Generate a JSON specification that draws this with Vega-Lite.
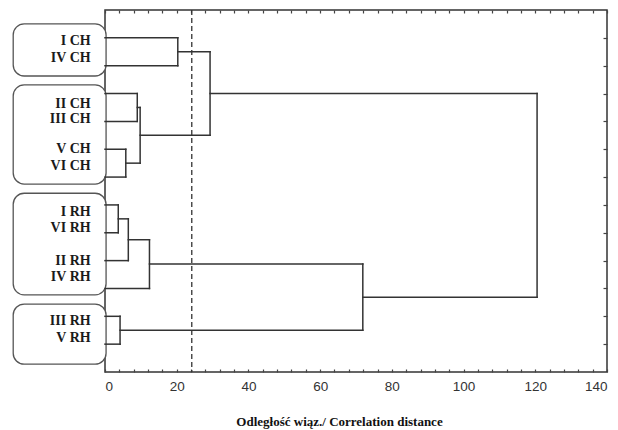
{
  "$schema": "https://vega.github.io/schema/vega-lite/v6.json",
  "width": 502,
  "height": 362,
  "autosize": {"type": "none"},
  "padding": {"left": 105, "top": 10, "right": 11, "bottom": 58},
  "background": "white",
  "config": {
    "view": {"stroke": "#333333", "strokeWidth": 1.5},
    "axis": {"grid": false, "domain": false}
  },
  "resolve": {"axis": {"x": "independent", "y": "independent"}},
  "layer": [
    {
      "data": {"values": [
        {"x": -25.6, "x2": 0.3, "y": 0.5, "y2": 2.37},
        {"x": -25.6, "x2": 0.3, "y": 2.69, "y2": 6.25},
        {"x": -25.6, "x2": 0.3, "y": 6.58, "y2": 10.23},
        {"x": -25.6, "x2": 0.3, "y": 10.56, "y2": 12.72}
      ]},
      "mark": {"type": "rect", "fill": "white", "stroke": "#555555", "strokeWidth": 1.3, "cornerRadius": 11, "clip": false},
      "encoding": {
        "x": {"field": "x", "type": "quantitative", "scale": {"domain": [0, 140], "nice": false, "zero": false},
          "axis": {"orient": "top", "values": [0,4,8,12,16,20,24,28,32,36,40,44,48,52,56,60,64,68,72,76,80,84,88,92,96,100,104,108,112,116,120,124,128,132,136,140], "labels": false, "title": null, "tickSize": -3, "tickColor": "#444444", "tickWidth": 1.2}},
        "x2": {"field": "x2"},
        "y": {"field": "y", "type": "quantitative", "scale": {"domain": [0, 13], "reverse": true, "nice": false, "zero": false}, "axis": null},
        "y2": {"field": "y2"}
      }
    },
    {
      "data": {"values": [
        {"x": 0, "x2": 20.3, "y": 1, "y2": 1},
        {"x": 0, "x2": 20.3, "y": 2, "y2": 2},
        {"x": 20.3, "x2": 20.3, "y": 1, "y2": 2},
        {"x": 20.3, "x2": 29.3, "y": 1.5, "y2": 1.5},
        {"x": 0, "x2": 9.0, "y": 3, "y2": 3},
        {"x": 0, "x2": 9.0, "y": 4, "y2": 4},
        {"x": 9.0, "x2": 9.0, "y": 3, "y2": 4},
        {"x": 9.0, "x2": 9.8, "y": 3.5, "y2": 3.5},
        {"x": 0, "x2": 5.8, "y": 5, "y2": 5},
        {"x": 0, "x2": 5.8, "y": 6, "y2": 6},
        {"x": 5.8, "x2": 5.8, "y": 5, "y2": 6},
        {"x": 5.8, "x2": 9.8, "y": 5.5, "y2": 5.5},
        {"x": 9.8, "x2": 9.8, "y": 3.5, "y2": 5.5},
        {"x": 9.8, "x2": 29.3, "y": 4.5, "y2": 4.5},
        {"x": 29.3, "x2": 29.3, "y": 1.5, "y2": 4.5},
        {"x": 29.3, "x2": 120.5, "y": 3.0, "y2": 3.0},
        {"x": 0, "x2": 3.7, "y": 7, "y2": 7},
        {"x": 0, "x2": 3.7, "y": 8, "y2": 8},
        {"x": 3.7, "x2": 3.7, "y": 7, "y2": 8},
        {"x": 3.7, "x2": 6.5, "y": 7.5, "y2": 7.5},
        {"x": 0, "x2": 6.5, "y": 9, "y2": 9},
        {"x": 6.5, "x2": 6.5, "y": 7.5, "y2": 9},
        {"x": 6.5, "x2": 12.4, "y": 8.25, "y2": 8.25},
        {"x": 0, "x2": 12.4, "y": 10, "y2": 10},
        {"x": 12.4, "x2": 12.4, "y": 8.25, "y2": 10},
        {"x": 12.4, "x2": 71.9, "y": 9.125, "y2": 9.125},
        {"x": 0, "x2": 4.2, "y": 11, "y2": 11},
        {"x": 0, "x2": 4.2, "y": 12, "y2": 12},
        {"x": 4.2, "x2": 4.2, "y": 11, "y2": 12},
        {"x": 4.2, "x2": 71.9, "y": 11.5, "y2": 11.5},
        {"x": 71.9, "x2": 71.9, "y": 9.125, "y2": 11.5},
        {"x": 71.9, "x2": 120.5, "y": 10.3125, "y2": 10.3125},
        {"x": 120.5, "x2": 120.5, "y": 3.0, "y2": 10.3125}
      ]},
      "mark": {"type": "rule", "color": "#333333", "strokeWidth": 1.5, "strokeCap": "square"},
      "encoding": {
        "x": {"field": "x", "type": "quantitative",
          "axis": {"orient": "bottom", "values": [0,20,40,60,80,100,120,140], "ticks": false, "labelPadding": 7, "labelFont": "Liberation Sans", "labelFontSize": 13.5, "labelColor": "#333333",
            "title": "Odległość wiąz./ Correlation distance", "titleFont": "Liberation Serif", "titleFontWeight": "bold", "titleFontSize": 13, "titleColor": "#111111", "titleX": 234, "titleY": 49, "titleBaseline": "middle", "titleAlign": "center"}},
        "x2": {"field": "x2"},
        "y": {"field": "y", "type": "quantitative",
          "axis": {"orient": "right", "values": [1,2,3,4,5,6,7,8,9,10,11,12], "labels": false, "title": null, "tickSize": -4, "tickColor": "#444444", "tickWidth": 1.2}},
        "y2": {"field": "y2"}
      }
    },
    {
      "data": {"values": [{"cut": 24.2}]},
      "mark": {"type": "rule", "color": "#333333", "strokeWidth": 1.3, "strokeDash": [5, 3]},
      "encoding": {
        "x": {"field": "cut", "type": "quantitative",
          "axis": {"orient": "bottom", "values": [0,4,8,12,16,20,24,28,32,36,40,44,48,52,56,60,64,68,72,76,80,84,88,92,96,100,104,108,112,116,120,124,128,132,136,140], "labels": false, "title": null, "tickSize": -3, "tickColor": "#444444", "tickWidth": 1.2}}
      }
    },
    {
      "data": {"values": [
        {"label": "I CH", "x": -4, "y": 1.11},
        {"label": "IV CH", "x": -4, "y": 1.71},
        {"label": "II CH", "x": -4, "y": 3.39},
        {"label": "III CH", "x": -4, "y": 3.91},
        {"label": "V CH", "x": -4, "y": 4.99},
        {"label": "VI CH", "x": -4, "y": 5.59},
        {"label": "I RH", "x": -4, "y": 7.27},
        {"label": "VI RH", "x": -4, "y": 7.84},
        {"label": "II RH", "x": -4, "y": 9.0},
        {"label": "IV RH", "x": -4, "y": 9.6},
        {"label": "III RH", "x": -4, "y": 11.17},
        {"label": "V RH", "x": -4, "y": 11.77}
      ]},
      "mark": {"type": "text", "align": "right", "baseline": "middle", "font": "Liberation Serif", "fontWeight": "bold", "fontSize": 14, "color": "#1a1a1a", "clip": false},
      "encoding": {
        "x": {"field": "x", "type": "quantitative", "axis": null},
        "y": {"field": "y", "type": "quantitative", "axis": null},
        "text": {"field": "label"}
      }
    }
  ]
}
